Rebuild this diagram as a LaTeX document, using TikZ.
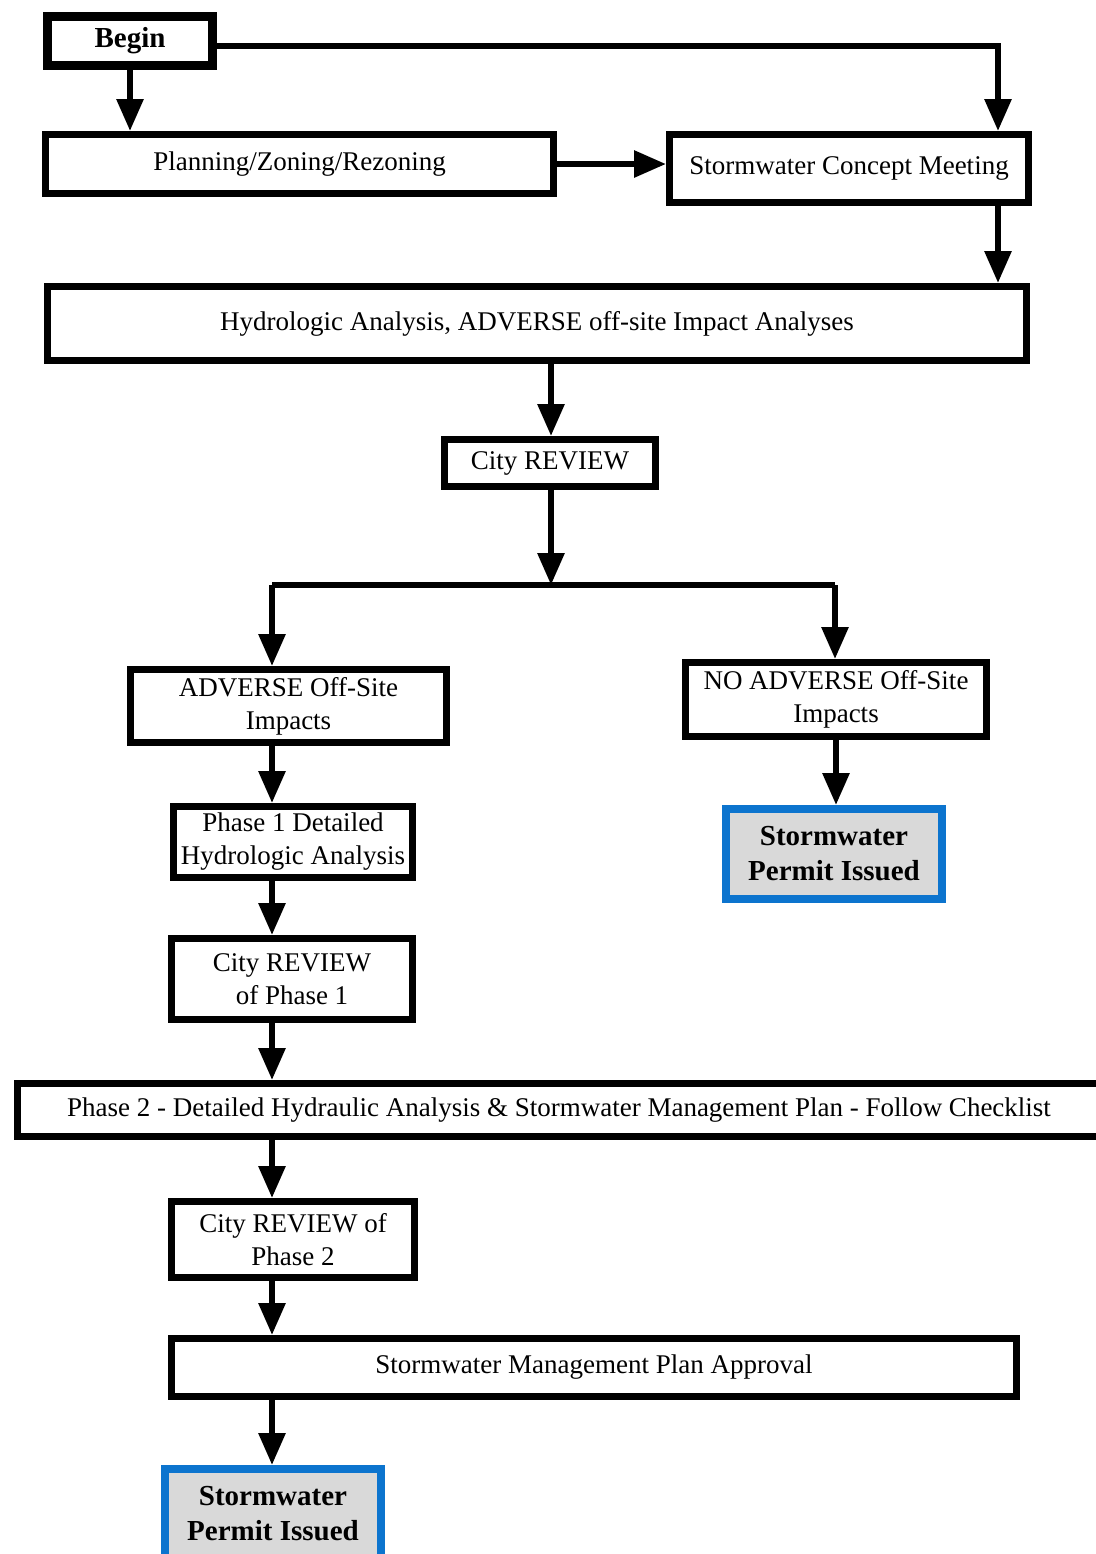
\documentclass[tikz,border=0pt]{standalone}
\usepackage{fontspec}
\setmainfont{Liberation Serif}
\usepackage{xcolor}
\usepackage{tikz}
\usetikzlibrary{arrows.meta,positioning,calc}
\definecolor{permitblue}{RGB}{12,116,206}
\definecolor{permitgray}{RGB}{217,217,217}
\tikzstyle{arrow} = [line width=3pt,-{Triangle[width=13pt,length=16pt]}]
\tikzstyle{plain} = [line width=3pt]
\tikzstyle{box} = [rectangle, draw, line width=3.5pt, inner sep=0pt, align=center, font=\fontsize{13.5pt}{16.5pt}\selectfont]
\tikzstyle{permit} = [rectangle, draw=permitblue, fill=permitgray, line width=4pt, inner sep=0pt, align=center, font=\fontsize{14.5pt}{17.5pt}\selectfont\bfseries]

\begin{document}
\begin{tikzpicture}[x=0.5pt, y=-0.5pt]
    \useasboundingbox (0,0) rectangle (1096,1554);
    % top part
    \node[box, line width=4.5pt, minimum width=82.5pt, minimum height=24.5pt, font=\fontsize{14.5pt}{17pt}\selectfont\bfseries] (begin) at (130,41) {Begin};
    \node[box, minimum width=254pt, minimum height=29.5pt] (planning) at (299.5,164) {Planning/Zoning/Rezoning};
    \node[box, minimum width=179.5pt, minimum height=34pt] (concept) at (849,168.5) {Stormwater Concept Meeting};
    \node[box, minimum width=489.5pt, minimum height=37pt] (hydro) at (537,323.5) {Hydrologic Analysis, ADVERSE off-site Impact Analyses};
    \node[box, minimum width=105.5pt, minimum height=23.5pt] (review) at (550,463) {City REVIEW};
    % branches
    \node[box, minimum width=158pt, minimum height=36.5pt] (adverse) at (288.5,706) {ADVERSE Off-Site\\Impacts};
    \node[box, minimum width=150.5pt, minimum height=37pt] (noadverse) at (836,699.5) {NO ADVERSE Off-Site\\Impacts};
    \node[permit, minimum width=108pt, minimum height=45pt] (permitA) at (834,854) {Stormwater\\Permit Issued};
    \node[box, minimum width=119.5pt, minimum height=35.5pt] (phaseone) at (293,842) {Phase 1 Detailed\\Hydrologic Analysis};
    \node[box, minimum width=120.5pt, minimum height=40.5pt] (reviewone) at (292,979) {City REVIEW\\of Phase 1};
    \node[box, minimum width=541.5pt, minimum height=26.5pt] (phasetwo) at (559,1110) {Phase 2 - Detailed Hydraulic Analysis \& Stormwater Management Plan - Follow Checklist};
    \node[box, minimum width=121.5pt, minimum height=38pt] (reviewtwo) at (293,1239.5) {City REVIEW of\\Phase 2};
    \node[box, minimum width=422.5pt, minimum height=29pt] (approval) at (594,1367.5) {Stormwater Management Plan Approval};
    \node[permit, minimum width=108pt, minimum height=45pt] (permitB) at (273,1514) {Stormwater\\Permit Issued};

    \coordinate (cmR) at (998,46);
    \coordinate (split) at (551,585);
    \coordinate (brL) at (272,585);
    \coordinate (brR) at (835,585);

    \draw[arrow] (begin.south) -- (begin.south |- planning.north);
    \draw[arrow] (begin.east |- cmR) -| (cmR |- concept.north);
    \draw[arrow] (planning.east) -- (planning.east -| concept.west);
    \draw[arrow] (cmR |- concept.south) -- (cmR |- hydro.north);
    \draw[arrow] (split |- hydro.south) -- (split |- review.north);
    \draw[arrow] (split |- review.south) -- (split);
    \draw[plain] (brL) -- (brR);
    \draw[arrow] (brL) -- (brL |- adverse.north);
    \draw[arrow] (brR) -- (brR |- noadverse.north);
    \draw[arrow] (noadverse.south) -- (noadverse.south |- permitA.north);
    \foreach \a/\b in {adverse/phaseone, phaseone/reviewone, reviewone/phasetwo, phasetwo/reviewtwo, reviewtwo/approval, approval/permitB} {
        \draw[arrow] (brL |- \a.south) -- (brL |- \b.north);
    }
\end{tikzpicture}
\end{document}
